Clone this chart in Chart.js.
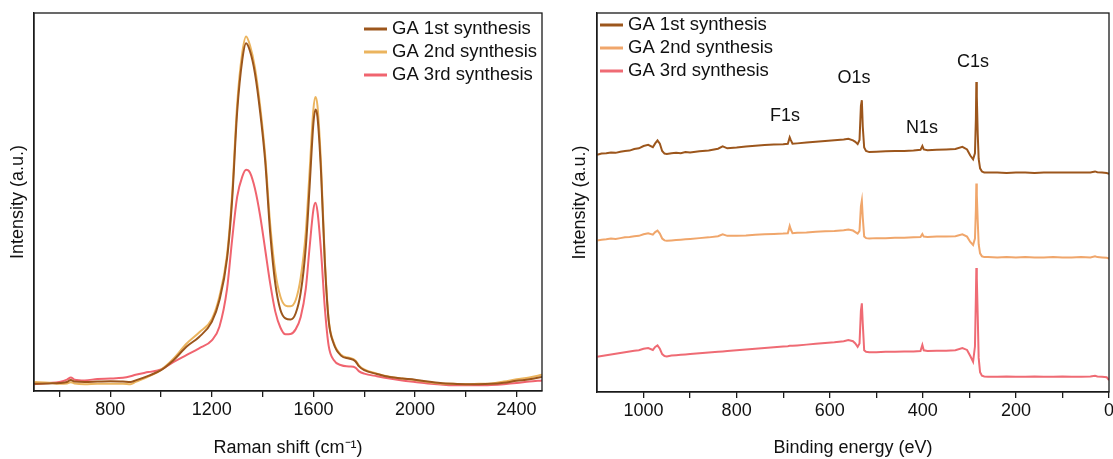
<!DOCTYPE html>
<html>
<head>
<meta charset="utf-8">
<script src="https://cdn.jsdelivr.net/npm/chart.js@4.4.1/dist/chart.umd.min.js"></script>
<style>
  body { margin: 0; background: #fff; }
  #wrap { position: relative; width: 1113px; height: 459px; }
  .panel { position: absolute; top: 0; height: 459px; }
  #raman-box { left: 0; width: 556px; }
  #xps-box { left: 556px; width: 557px; }
</style>
</head>
<body>
<div id="wrap">
  <div class="panel" id="raman-box"><canvas id="raman-chart"></canvas></div>
  <div class="panel" id="xps-box"><canvas id="xps-chart"></canvas></div>
</div>
<script>
var seriesNames = ['GA 1st synthesis', 'GA 2nd synthesis', 'GA 3rd synthesis'];

// Raman spectra (intensity in arbitrary units)
var ramanShift = [500, 560, 600, 630, 645, 660, 700, 750, 800, 850, 880, 900, 950, 1000, 1050, 1100, 1150, 1200, 1230, 1260, 1280, 1300, 1320, 1335, 1350, 1370, 1390, 1410, 1430, 1450, 1470, 1490, 1510, 1530, 1550, 1570, 1585, 1600, 1608, 1616, 1630, 1645, 1660, 1680, 1710, 1740, 1765, 1780, 1800, 1850, 1900, 1950, 2000, 2050, 2100, 2150, 2200, 2250, 2300, 2350, 2400, 2450, 2500];
var raman1st = [1.9, 2.0, 2.1, 2.4, 2.9, 2.5, 2.4, 2.5, 2.6, 2.5, 2.4, 2.8, 4.0, 5.5, 8.2, 11.7, 14.3, 18.3, 24, 35, 50.5, 74, 87.6, 92, 90, 84, 74, 61, 41.7, 28.4, 21.5, 19.2, 18.9, 20.5, 26, 38, 54, 70.8, 74.5, 72.5, 58, 34, 18.7, 12.5, 9.3, 8.6, 7.9, 6.5, 5.5, 4.5, 3.7, 3.3, 3.0, 2.5, 2.1, 1.9, 1.8, 1.8, 1.9, 2.2, 2.7, 3.1, 3.7];
var raman2nd = [2.4, 2.2, 1.9, 2.0, 2.3, 2.0, 1.8, 1.9, 1.9, 1.9, 1.8, 2.4, 3.8, 5.6, 8.6, 12.5, 15.5, 19, 25, 36, 52, 76, 89.5, 93.8, 91.5, 85.5, 75.5, 62.5, 44, 31.5, 25, 22.6, 22.4, 24, 30, 42, 58, 74.5, 77.8, 75.5, 60, 35, 19, 12.8, 9.5, 8.8, 8.1, 6.7, 5.7, 4.6, 3.8, 3.3, 2.9, 2.4, 2.0, 1.9, 1.8, 1.9, 2.0, 2.5, 3.1, 3.6, 4.3];
var raman3rd = [1.8, 2.1, 2.4, 3.0, 3.6, 3.0, 2.8, 3.2, 3.3, 3.5, 3.9, 4.3, 5.0, 5.7, 7.7, 9.5, 11.3, 13.4, 17, 27, 40, 51.4, 56.7, 58.5, 57.8, 53.5, 46.5, 37.5, 28.4, 21, 16.8, 15, 15.1, 16.3, 19.6, 27, 38, 48, 49.8, 47.5, 37, 22, 12, 8.2, 6.8, 6.5, 6.2, 5.2, 4.6, 3.9, 3.3, 2.8, 2.4, 2.0, 1.7, 1.5, 1.5, 1.5, 1.6, 1.8, 2.1, 2.5, 2.8];
var ramanTicks = [600, 800, 1000, 1200, 1400, 1600, 1800, 2000, 2200, 2400];
var ramanLabels = [800, 1200, 1600, 2000, 2400];

// XPS survey spectra, stacked (intensity in arbitrary units)
var bindingEnergy = [1100, 1090, 1080, 1070, 1060, 1050, 1040, 1030, 1020, 1010, 1000, 990, 980, 975, 970, 965, 960, 955, 950, 940, 930, 920, 910, 900, 880, 860, 840, 830, 820, 800, 780, 760, 740, 720, 700, 690, 686, 684, 680, 670, 650, 630, 610, 590, 570, 560, 550, 545, 540, 536, 533, 531, 529, 526, 522, 515, 500, 480, 460, 440, 420, 405, 401, 398, 390, 370, 350, 330, 315, 305, 298, 292, 288, 286, 285, 284, 282, 280, 277, 273, 268, 260, 240, 220, 200, 180, 160, 140, 120, 100, 80, 60, 40, 30, 25, 15, 5, 0];
var xps1st = [62.6, 62.9, 63.0, 63.2, 63.1, 63.4, 63.6, 63.7, 64.1, 64.3, 64.9, 65.2, 64.6, 65.6, 66.4, 65.5, 63.6, 62.9, 62.8, 63.0, 63.1, 63.0, 63.3, 63.2, 63.5, 63.7, 64.2, 64.8, 64.3, 64.5, 64.8, 65.0, 65.2, 65.3, 65.4, 65.5, 67.2, 66.6, 65.5, 65.6, 65.8, 66.0, 66.2, 66.4, 66.6, 66.8, 66.4, 66.0, 65.4, 66.5, 75.5, 77.0, 70.0, 64.5, 63.6, 63.3, 63.4, 63.5, 63.6, 63.6, 63.7, 63.9, 64.9, 64.0, 63.8, 63.9, 64.0, 64.1, 64.7, 64.0, 62.4, 61.4, 63.0, 72.0, 81.8, 78.0, 68.0, 61.5, 59.0, 58.2, 57.9, 57.9, 57.9, 57.8, 57.9, 57.9, 57.8, 57.9, 57.9, 57.9, 57.9, 57.9, 57.9, 58.2, 58.0, 57.9, 57.8, 57.6];
var xps2nd = [40.0, 40.2, 40.3, 40.5, 40.4, 40.6, 40.8, 40.9, 41.1, 41.2, 41.6, 41.9, 41.5, 42.2, 42.6, 41.8, 40.5, 40.0, 39.9, 40.0, 40.1, 40.2, 40.3, 40.4, 40.6, 40.8, 41.1, 41.6, 41.2, 41.2, 41.3, 41.5, 41.6, 41.7, 41.8, 41.9, 43.8, 43.0, 41.9, 42.0, 42.1, 42.3, 42.4, 42.5, 42.7, 42.9, 42.6, 42.2, 41.8, 42.5, 49.0, 50.5, 46.0, 41.0, 40.6, 40.5, 40.6, 40.6, 40.7, 40.7, 40.8, 40.9, 41.7, 41.0, 40.9, 41.0, 41.0, 41.1, 41.6, 41.0, 39.6, 38.8, 40.5, 48.0, 55.0, 52.0, 45.0, 39.0, 36.6, 35.8, 35.6, 35.6, 35.5, 35.6, 35.5, 35.6, 35.5, 35.5, 35.6, 35.5, 35.5, 35.6, 35.5, 35.8, 35.6, 35.5, 35.4, 35.2];
var xps3rd = [9.3, 9.5, 9.7, 9.9, 10.1, 10.3, 10.5, 10.7, 10.9, 11.0, 11.4, 11.6, 11.1, 11.9, 12.3, 11.4, 10.0, 9.5, 9.4, 9.6, 9.7, 9.8, 9.9, 10.0, 10.2, 10.4, 10.6, 10.7, 10.8, 11.0, 11.2, 11.4, 11.6, 11.8, 12.0, 12.1, 12.2, 12.2, 12.2, 12.3, 12.5, 12.7, 12.9, 13.1, 13.4, 13.7, 13.4, 12.8, 11.9, 12.8, 21.5, 23.4, 18.0, 11.0, 10.6, 10.5, 10.5, 10.6, 10.6, 10.7, 10.7, 10.8, 12.4, 11.0, 10.8, 10.9, 10.9, 11.0, 11.6, 11.1, 9.5, 8.0, 12.0, 25.0, 32.7, 30.0, 20.0, 9.0, 5.2, 4.3, 4.1, 4.0, 4.0, 4.1, 4.0, 4.0, 4.1, 4.0, 4.0, 4.1, 4.0, 4.0, 4.1, 4.3, 4.1, 4.0, 3.9, 3.1];
var xpsTicks = [0, 100, 200, 300, 400, 500, 600, 700, 800, 900, 1000];
var xpsLabels = [0, 200, 400, 600, 800, 1000];
var peakNames = ['F1s', 'O1s', 'N1s', 'C1s'];
var peakEnergy = [696, 548, 402, 292];
var peakLevel = [72.8, 82.8, 69.7, 87.1];

var fontFamily = '"Liberation Sans", Arial, sans-serif';
var ramanColors = ['#9c561c', '#ebb45e', '#f0646f'];
var xpsColors = ['#9c561c', '#f0a66b', '#ef6b74'];

Chart.defaults.font.family = fontFamily;
Chart.defaults.font.size = 18;
Chart.defaults.color = '#111';

function toPoints(xs, ys) {
  var pts = [];
  for (var i = 0; i < xs.length; i++) {
    pts.push({x: xs[i], y: ys[i]});
  }
  return pts;
}

function makeDataset(label, xs, ys, color, width, tension) {
  return {
    label: label,
    data: toPoints(xs, ys),
    borderColor: color,
    backgroundColor: color,
    borderWidth: width,
    pointRadius: 0,
    tension: tension,
    cubicInterpolationMode: tension ? 'monotone' : 'default'
  };
}

// box around the plot area
var framePlugin = {
  id: 'frame',
  afterDatasetsDraw: function(chart) {
    var a = chart.chartArea;
    var ctx = chart.ctx;
    ctx.save();
    ctx.strokeStyle = '#1a1a1a';
    ctx.lineWidth = 1.3;
    ctx.strokeRect(a.left, a.top, a.right - a.left, a.bottom - a.top);
    ctx.restore();
  }
};

// legend drawn inside the plot
var insideLegend = {
  id: 'insideLegend',
  afterDraw: function(chart, args, opts) {
    var ctx = chart.ctx;
    ctx.save();
    ctx.font = '18.5px ' + fontFamily;
    ctx.textBaseline = 'middle';
    chart.data.datasets.forEach(function(ds, i) {
      var y = opts.y + i * opts.gap;
      ctx.strokeStyle = ds.borderColor;
      ctx.lineWidth = 3;
      ctx.beginPath();
      ctx.moveTo(opts.x, y);
      ctx.lineTo(opts.x + 23, y);
      ctx.stroke();
      ctx.fillStyle = '#111';
      ctx.fillText(ds.label, opts.x + 28, y);
    });
    ctx.restore();
  }
};

// element names above the XPS peaks
var peakTags = {
  id: 'peakTags',
  afterDraw: function(chart, args, opts) {
    if (!opts.names) return;
    var ctx = chart.ctx;
    ctx.save();
    ctx.font = '18px ' + fontFamily;
    ctx.fillStyle = '#111';
    ctx.textAlign = 'center';
    ctx.textBaseline = 'middle';
    for (var i = 0; i < opts.names.length; i++) {
      ctx.fillText(opts.names[i], chart.scales.x.getPixelForValue(opts.xs[i]), chart.scales.y.getPixelForValue(opts.ys[i]));
    }
    ctx.restore();
  }
};

function xAxis(min, max, ticks, labels, title, reverse, height) {
  return {
    type: 'linear',
    min: min,
    max: max,
    reverse: reverse,
    afterBuildTicks: function(scale) {
      scale.ticks = ticks.map(function(v) { return {value: v}; });
    },
    afterFit: function(scale) { scale.height = height; },
    ticks: {
      autoSkip: false,
      maxRotation: 0,
      padding: 2,
      callback: function(v) { return labels.indexOf(v) >= 0 ? String(v) : ''; }
    },
    grid: {display: true, drawOnChartArea: false, drawTicks: true, tickLength: 6, color: '#1a1a1a', lineWidth: 1.3},
    border: {display: true, color: '#1a1a1a', width: 1.3},
    title: {display: true, text: title, padding: {top: 0, bottom: 0}}
  };
}

function yAxis(width, pad) {
  return {
    min: 0,
    max: 100,
    afterFit: function(scale) { scale.width = width; },
    ticks: {display: false},
    grid: {display: false},
    border: {display: true, color: '#1a1a1a', width: 1.3},
    title: {display: true, text: 'Intensity (a.u.)', padding: {top: pad, bottom: 0}}
  };
}

var ramanChart = new Chart(document.getElementById('raman-chart').getContext('2d'), {
  type: 'line',
  data: {
    datasets: [
      makeDataset(seriesNames[0], ramanShift, raman1st, ramanColors[0], 2, 0.4),
      makeDataset(seriesNames[1], ramanShift, raman2nd, ramanColors[1], 2, 0.4),
      makeDataset(seriesNames[2], ramanShift, raman3rd, ramanColors[2], 2, 0.4)
    ]
  },
  options: {
    responsive: true,
    maintainAspectRatio: false,
    animation: false,
    layout: {padding: {top: 13, right: 14, left: 0, bottom: 0}},
    plugins: {
      legend: {display: false},
      tooltip: {enabled: false},
      insideLegend: {x: 364, y: 29, gap: 23}
    },
    scales: {
      x: xAxis(500, 2500, ramanTicks, ramanLabels, 'Raman shift (cm\u207B\u00B9)', false, 68),
      y: yAxis(34, 7)
    }
  },
  plugins: [framePlugin, insideLegend]
});

var xpsChart = new Chart(document.getElementById('xps-chart').getContext('2d'), {
  type: 'line',
  data: {
    datasets: [
      makeDataset(seriesNames[0], bindingEnergy, xps1st, xpsColors[0], 2, 0),
      makeDataset(seriesNames[1], bindingEnergy, xps2nd, xpsColors[1], 2, 0),
      makeDataset(seriesNames[2], bindingEnergy, xps3rd, xpsColors[2], 2, 0)
    ]
  },
  options: {
    responsive: true,
    maintainAspectRatio: false,
    animation: false,
    layout: {padding: {top: 13, right: 4, left: 0, bottom: 0}},
    plugins: {
      legend: {display: false},
      tooltip: {enabled: false},
      insideLegend: {x: 44, y: 25, gap: 23},
      peakTags: {names: peakNames, xs: peakEnergy, ys: peakLevel}
    },
    scales: {
      x: xAxis(0, 1100, xpsTicks, xpsLabels, 'Binding energy (eV)', true, 67),
      y: yAxis(41, 13)
    }
  },
  plugins: [framePlugin, insideLegend, peakTags]
});
</script>
</body>
</html>
